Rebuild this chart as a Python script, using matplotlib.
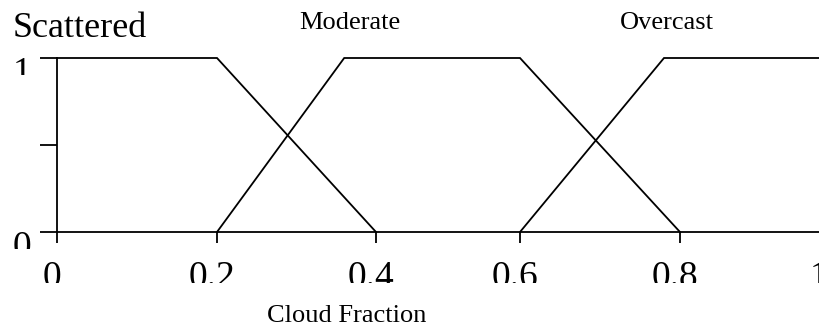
import numpy as np
import matplotlib
matplotlib.use("Agg")
import matplotlib.pyplot as plt
from matplotlib.transforms import Bbox, ScaledTranslation

plt.rcParams['font.family'] = ['Liberation Serif', 'DejaVu Serif']

# ---- data ----
categories = ["Scattered", "Moderate", "Overcast"]
scattered_x = [0.0, 0.2, 0.4]
scattered_y = [1, 1, 0]
moderate_x = [0.2, 0.36, 0.6, 0.8]
moderate_y = [0, 1, 1, 0]
overcast_x = [0.6, 0.78, 1.0]
overcast_y = [0, 1, 1]
x_ticks = [0, 0.2, 0.4, 0.6, 0.8, 1.0]
x_tick_labels = ["0", "0.2", "0.4", "0.6", "0.8", "1"]
y_ticks = [0, 0.5, 1]
y_tick_labels = ["0", "", "1"]
x_label = "Cloud Fraction"

# ---- figure geometry ----
W, H, DPI = 819, 328, 100
fig = plt.figure(figsize=(W / DPI, H / DPI), dpi=DPI)

# the original axis is hand-drawn with uneven tick spacing:
# pixel offsets of the ticks from the axis origin
tick_offsets = np.array([0, 160, 319, 463, 623, 767], float)
scale_vals = np.concatenate([[-10.0], x_ticks, [10.0]])
scale_pix = np.concatenate([[-10.0 * 800], tick_offsets, [767 + 9.0 * 800]])


def fwd(v):
    return np.interp(v, scale_vals, scale_pix)


def inv(p):
    return np.interp(p, scale_pix, scale_vals)


ax = fig.add_axes([57 / W, (H - 232) / H, (824 - 57) / W, (232 - 58) / H])
ax.set_xscale('function', functions=(fwd, inv))
ax.set_xlim(0, 1)
ax.set_ylim(0, 1)

lw = 1.3
for xs, ys in [(scattered_x, scattered_y), (moderate_x, moderate_y), (overcast_x, overcast_y)]:
    ax.plot(xs, ys, color='black', lw=lw, clip_on=False, solid_joinstyle='miter')

for s in ['top', 'right']:
    ax.spines[s].set_visible(False)
for s in ['left', 'bottom']:
    ax.spines[s].set_linewidth(lw)
    ax.spines[s].set_color('black')

ax.set_xticks(x_ticks)
ax.set_yticks(y_ticks)
ax.minorticks_off()
ax.tick_params(axis='x', direction='out', length=11 * 72 / DPI, width=lw,
               labelbottom=False)
ax.tick_params(axis='y', direction='out', length=17 * 72 / DPI, width=lw,
               labelleft=False)

tick_fs = 27
px = lambda p: p / DPI

# x tick labels (clipped at the bottom like the original)
axis_bottom_disp = ax.transAxes.transform((0, 0))[1]
x_clip = Bbox([[0, axis_bottom_disp - 51], [W, H]])
xoff = ScaledTranslation(px(-5), px(-55), fig.dpi_scale_trans)
for v, lab in zip(x_ticks, x_tick_labels):
    t = ax.text(v, 0, lab, transform=ax.get_xaxis_transform() + xoff,
                ha='center', va='baseline', fontsize=tick_fs, clip_on=True)
    t.set_clip_box(x_clip)

# y tick labels (clipped too)
yoff = ScaledTranslation(px(-26), px(-25), fig.dpi_scale_trans)
for v, lab in zip(y_ticks, y_tick_labels):
    if not lab:
        continue
    yd = ax.transData.transform((0, v))[1]
    t = ax.text(0, v, lab, transform=ax.get_yaxis_transform() + yoff,
                ha='right', va='baseline', fontsize=tick_fs, clip_on=True)
    t.set_clip_box(Bbox([[0, yd - 17], [W, yd + 40]]))

# category labels
fig.text(13 / W, 1 - 37 / H, categories[0], fontsize=26, ha='left', va='baseline')
fig.text(350 / W, 1 - 29 / H, categories[1], fontsize=19, ha='center', va='baseline')
fig.text(667 / W, 1 - 29 / H, categories[2], fontsize=19, ha='center', va='baseline')

# axis title
fig.text(347 / W, 1 - 322 / H, x_label, fontsize=19, ha='center', va='baseline')

fig.savefig('out.png', dpi=DPI)
